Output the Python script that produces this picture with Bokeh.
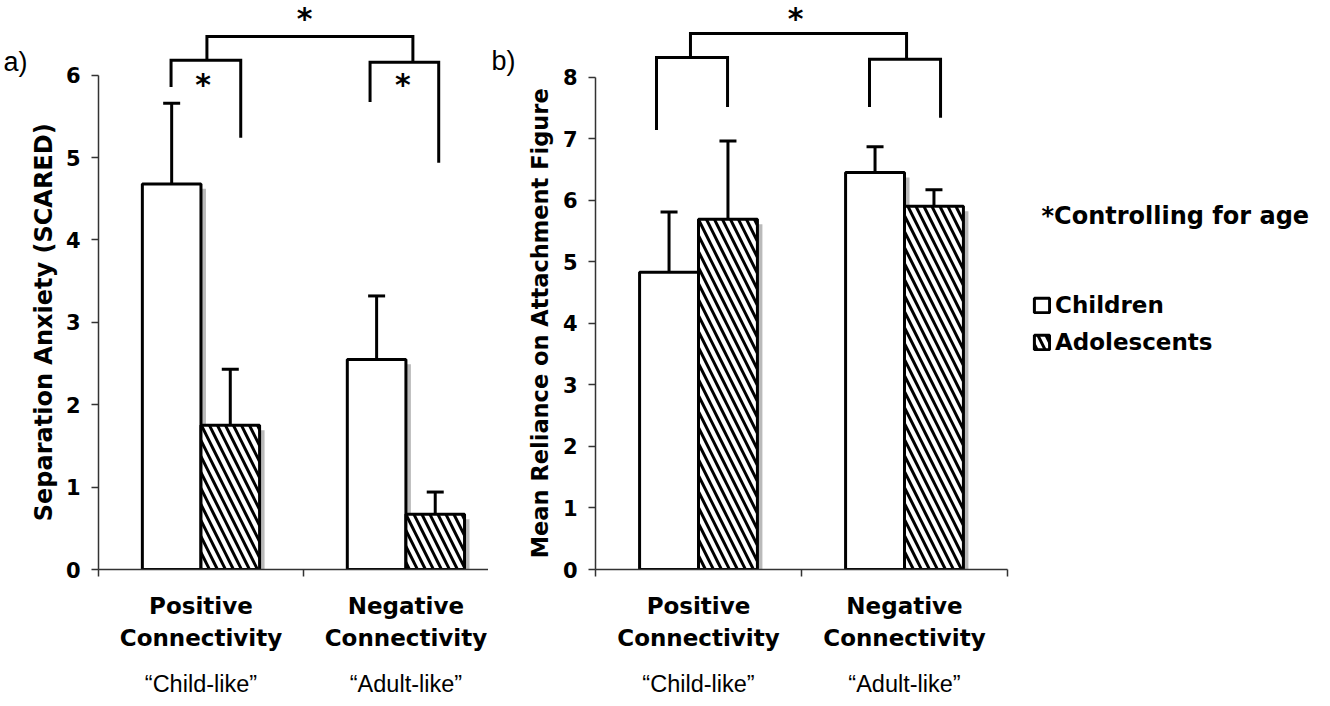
from bokeh.plotting import figure
from bokeh.models import (Range1d, FixedTicker, LinearAxis, Whisker, ColumnDataSource,
                          Label, Legend, LegendItem, TeeHead)
from bokeh.layouts import row
from bokeh.embed import file_html
from bokeh.resources import INLINE
from bokeh.core.properties import value

# ---------------- data ----------------
categories = ["Positive", "Negative"]
category_line2 = ["Connectivity", "Connectivity"]
category_notes = ["\u201cChild-like\u201d", "\u201cAdult-like\u201d"]
groups = ["Children", "Adolescents"]

anx_children = [4.68, 2.55]
anx_children_err = [0.98, 0.77]
anx_adolescents = [1.75, 0.67]
anx_adolescents_err = [0.68, 0.27]
anx_ticks = [0, 1, 2, 3, 4, 5, 6]

rel_children = [4.83, 6.45]
rel_children_err = [0.98, 0.42]
rel_adolescents = [5.69, 5.90]
rel_adolescents_err = [1.27, 0.27]
rel_ticks = [0, 1, 2, 3, 4, 5, 6, 7, 8]

# significance brackets: (x_left, x_right, y_bar, y_left_end, y_right_end)
anx_top_bracket = (0.529, 1.534, 6.47)
anx_sub_brackets = [(0.354, 0.694, 6.18, 5.855, 5.24),
                    (1.325, 1.660, 6.157, 5.674, 4.938)]
anx_stars = [(1.005, 6.69), (0.51, 5.89), (1.485, 5.89)]

rel_top_bracket = (0.461, 1.510, 8.71)
rel_sub_brackets = [(0.296, 0.641, 8.32, 7.14, 7.515),
                    (1.330, 1.675, 8.29, 7.515, 7.34)]
rel_stars = [(0.971, 8.95)]

FONT_B = "DejaVu Sans"
FONT_R = "Liberation Sans"
CAT_PX = 206.0          # pixels per category
BAR_W = 0.286
OFF = 0.143
HEIGHT = 699
FRAME_BOTTOM = 572


def make_panel(width, x_end, px_per_unit, y_bound, ticks, ylabel, title_size,
               title_standoff, panel_tag, tag_y, tag_standoff,
               children, children_err, adol, adol_err,
               top_bracket, sub_brackets, stars, border_left):
    y_end = FRAME_BOTTOM / px_per_unit
    p = figure(width=width, height=HEIGHT, x_range=Range1d(0, x_end),
               y_range=Range1d(0, y_end), output_backend="svg",
               toolbar_location=None, min_border_left=border_left,
               min_border_right=0, min_border_top=0,
               min_border_bottom=0, y_axis_type=None, x_axis_type=None)
    p.outline_line_color = None
    p.xgrid.visible = False
    p.ygrid.visible = False

    centers = [0.5 + i for i in range(len(categories))]
    xc = [c - OFF for c in centers]
    xa = [c + OFF for c in centers]
    dx = 5.0 / CAT_PX
    dy = 5.0 / px_per_unit

    # drop shadows
    p.vbar(x=[v + dx for v in xc + xa],
           top=[max(t - dy, 0) for t in children + adol],
           width=BAR_W, fill_color="#9c9c9c", fill_alpha=0.7, line_color=None)

    src_c = ColumnDataSource(dict(x=xc, top=children,
                                  upper=[m + e for m, e in zip(children, children_err)],
                                  lower=[m - e for m, e in zip(children, children_err)]))
    src_a = ColumnDataSource(dict(x=xa, top=adol,
                                  upper=[m + e for m, e in zip(adol, adol_err)],
                                  lower=[m - e for m, e in zip(adol, adol_err)]))
    r_c = p.vbar(x="x", top="top", width=BAR_W, source=src_c, fill_color="white",
                 line_color="black", line_width=3)
    r_a = p.vbar(x="x", top="top", width=BAR_W, source=src_a, fill_color="white",
                 line_color="black", line_width=3, hatch_pattern="\\",
                 hatch_color="black", hatch_weight=3, hatch_scale=16)

    for src in (src_c, src_a):
        w = Whisker(source=src, base="x", upper="upper", lower="lower",
                    line_width=3, line_color="black",
                    upper_head=TeeHead(size=17, line_width=3, line_color="black"),
                    lower_head=TeeHead(size=17, line_width=3, line_color="black"))
        p.add_layout(w)

    # brackets
    xs, ys = [], []
    for (xl, xr, yb, yle, yre) in sub_brackets:
        xs.append([xl, xl, xr, xr])
        ys.append([yle, yb, yb, yre])
    tl, tr, ty = top_bracket
    xs.append([tl, tl, tr, tr])
    ys.append([sub_brackets[0][2], ty, ty, sub_brackets[1][2]])
    p.multi_line(xs=xs, ys=ys, line_color="black", line_width=3,
                 line_join="miter")
    p.text(x=[s[0] for s in stars], y=[s[1] for s in stars],
           text=["*"] * len(stars), text_font=value(FONT_B),
           text_font_style="bold", text_font_size="30px",
           text_align="center", text_baseline="middle", text_color="black")

    # y axis (ticks + numbers)
    yax = LinearAxis(ticker=FixedTicker(ticks=ticks), bounds=(0, y_bound))
    yax.axis_line_color = "#333333"
    yax.axis_line_width = 1.5
    yax.major_tick_line_color = "#333333"
    yax.major_tick_line_width = 1.5
    yax.major_tick_out = 7
    yax.major_tick_in = 0
    yax.minor_tick_line_color = None
    yax.major_label_standoff = 11
    yax.major_label_text_font = FONT_B
    yax.major_label_text_font_style = "bold"
    yax.major_label_text_font_size = "21px"
    yax.major_label_text_color = "black"
    p.add_layout(yax, "left")

    def text_axis(side, tick_vals, labels, font, style, size, standoff,
                  orientation=None):
        ax = LinearAxis(ticker=FixedTicker(ticks=tick_vals),
                        major_label_overrides={c: t for c, t in zip(tick_vals, labels)})
        ax.axis_line_color = None
        ax.major_tick_line_color = None
        ax.minor_tick_line_color = None
        ax.major_tick_out = 0
        ax.major_tick_in = 0
        ax.major_label_standoff = standoff
        ax.major_label_text_font = font
        ax.major_label_text_font_style = style
        ax.major_label_text_font_size = size
        ax.major_label_text_color = "black"
        if orientation is not None:
            ax.major_label_orientation = orientation
        p.add_layout(ax, side)
        return ax

    # y-axis title centred on the 0..max scale, then the panel tag
    text_axis("left", [y_bound / 2], [ylabel], FONT_B, "bold", title_size,
              title_standoff, "parallel")
    text_axis("left", [tag_y], [panel_tag], FONT_R, "normal", "27px", tag_standoff)

    # main x axis: line + category-boundary ticks (minor) + first label line
    xax = LinearAxis(ticker=FixedTicker(ticks=centers, minor_ticks=[0, 1, 2]),
                     bounds=(0, min(2, x_end)),
                     major_label_overrides={c: t for c, t in zip(centers, categories)})
    xax.axis_line_color = "#333333"
    xax.axis_line_width = 1.5
    xax.major_tick_line_color = None
    xax.major_tick_out = 7
    xax.major_tick_in = 0
    xax.minor_tick_line_color = "#333333"
    xax.minor_tick_line_width = 1.5
    xax.minor_tick_out = 7
    xax.minor_tick_in = 0
    xax.major_label_standoff = 16
    xax.major_label_text_font = FONT_B
    xax.major_label_text_font_style = "bold"
    xax.major_label_text_font_size = "23px"
    xax.major_label_text_color = "black"
    p.add_layout(xax, "below")

    text_axis("below", centers, category_line2, FONT_B, "bold", "23px", 3)
    text_axis("below", centers, category_notes, FONT_R, "normal", "23.5px", 17)
    return p, r_c, r_a


p1, _, _ = make_panel(488, 392.0 / CAT_PX, 82.83, 6, anx_ticks,
                      "Separation Anxiety (SCARED)", "24px", 4, "a)",
                      (572 - 62) / 82.83, 0,
                      anx_children, anx_children_err,
                      anx_adolescents, anx_adolescents_err, anx_top_bracket,
                      anx_sub_brackets, anx_stars, 96)

p2, r_c, r_a = make_panel(842, 735.0 / CAT_PX, 61.875, 8, rel_ticks,
                          "Mean Reliance on Attachment Figure", "22.5px", 6, "b)",
                          (572 - 61) / 61.875, 9,
                          rel_children, rel_children_err,
                          rel_adolescents, rel_adolescents_err, rel_top_bracket,
                          rel_sub_brackets, rel_stars, 107)

p2.add_layout(Label(x=(1041 - 595) / CAT_PX, y=(572 - 217) / 61.875,
                    text="*Controlling for age", text_font=FONT_B,
                    text_font_style="bold", text_font_size="24px",
                    text_baseline="middle", text_color="black"))

legend = Legend(items=[LegendItem(label=groups[0], renderers=[r_c]),
                       LegendItem(label=groups[1], renderers=[r_a])],
                location=(437, 214), orientation="vertical",
                border_line_color=None, background_fill_alpha=0,
                padding=0, margin=0, spacing=11, glyph_width=19,
                glyph_height=18, label_standoff=4,
                label_text_font=FONT_B, label_text_font_style="bold",
                label_text_font_size="23px", label_text_color="black")
p2.add_layout(legend)

layout = row(p1, p2, spacing=0)
open("out.html", "w").write(file_html(layout, INLINE))
